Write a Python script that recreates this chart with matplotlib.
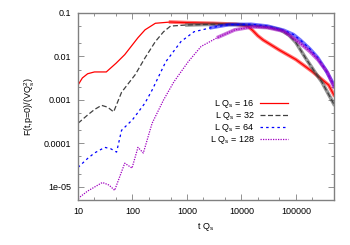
import matplotlib
matplotlib.use("Agg")
import matplotlib.pyplot as plt
from matplotlib.ticker import LogLocator, FixedLocator, FixedFormatter, NullFormatter

plt.rcParams['font.family'] = ['Liberation Sans', 'DejaVu Sans']
plt.rcParams['mathtext.default'] = 'regular'
plt.rcParams['font.size'] = 6.5

# values (log-log)
t16 = [10, 12, 15, 20, 33, 50, 72, 126, 170, 263, 500, 1000, 3000, 8000, 13000, 16000, 20000, 25000, 50000, 100000, 200000, 400000, 500000]
f16 = [0.0022, 0.0032, 0.0040, 0.0044, 0.0044, 0.0070, 0.011, 0.027, 0.041, 0.058, 0.062, 0.060, 0.058, 0.055, 0.050, 0.040, 0.030, 0.024, 0.014, 0.0085, 0.0045, 0.0022, 0.0013]

t32 = [10, 15, 20, 27, 35, 45, 63, 112, 170, 263, 372, 500, 1000, 3000, 10000, 20000, 35000, 52000, 75000, 100000, 150000, 220000, 300000, 500000]
f32 = [0.00029, 0.00045, 0.0006, 0.00075, 0.00068, 0.00053, 0.0015, 0.0038, 0.0093, 0.022, 0.037, 0.050, 0.053, 0.055, 0.054, 0.050, 0.046, 0.041, 0.031, 0.021, 0.0093, 0.0045, 0.0026, 0.0008]

t64 = [10, 15, 20, 31, 40, 51, 63, 100, 170, 230, 407, 776, 1350, 2800, 5900, 15000, 30000, 60000, 90000, 120000, 180000, 250000, 350000, 500000]
f64 = [2.8e-5, 4.5e-5, 6e-5, 8.1e-5, 7.5e-5, 6.3e-5, 2.0e-4, 3.5e-4, 8.5e-4, 0.0017, 0.0075, 0.022, 0.037, 0.046, 0.054, 0.055, 0.050, 0.040, 0.032, 0.024, 0.015, 0.0095, 0.0050, 0.0022]

t128 = [10, 15, 28, 37, 47, 72, 98, 126, 158, 229, 372, 575, 1050, 1820, 3800, 7600, 16000, 30000, 60000, 110000, 180000, 257000, 380000, 500000]
f128 = [5.4e-6, 8e-6, 1.26e-5, 1.1e-5, 8.3e-6, 3.5e-5, 2.7e-5, 8.1e-5, 6e-5, 2.9e-4, 1e-3, 0.0026, 0.0075, 0.017, 0.028, 0.041, 0.048, 0.046, 0.038, 0.022, 0.013, 0.0083, 0.0043, 0.0020]

labels = [r"L Q$_s$ = 16", r"L Q$_s$ = 32", r"L Q$_s$ = 64", r"L Q$_s$ = 128"]
yticks = [1e-5, 1e-4, 1e-3, 1e-2, 1e-1]
ytick_labels = ["1e-05", "0.0001", "0.001", "0.01", "0.1"]
xticks = [10, 100, 1000, 10000, 100000]
xtick_labels = ["10", "100", "1000", "10000", "100000"]

series = [(t16, f16), (t32, f32), (t64, f64), (t128, f128)]
colors = ['#ff0000', '#404040', '#0000ff', '#a000c0']
styles = ['-', (0, (4, 2)), (0, (2, 2.5)), (0, (1, 1))]
noisy_from = [300, 600, 1500, 3000]

fig = plt.figure(figsize=(3.5, 2.45), dpi=100)
ax = fig.add_axes([0.223, 0.184, 0.731, 0.763])

for (t, f), c, ls, nf, lab in zip(series, colors, styles, noisy_from, labels):
    ax.plot(t, f, color=c, ls=ls, lw=0.9, label=lab)
    # noisy part of the curves drawn as a fuzzy band
    tt = [x for x in t if x >= nf]
    ff = [y for x, y in zip(t, f) if x >= nf]
    ax.plot(tt, ff, color=c, ls='-', lw=2.6, alpha=0.55)

ax.set_xscale('log')
ax.set_yscale('log')
ax.set_xlim(10, 5e5)
ax.set_ylim(5e-6, 0.1)

ax.xaxis.set_major_locator(FixedLocator(xticks))
ax.xaxis.set_major_formatter(FixedFormatter(xtick_labels))
ax.xaxis.set_minor_locator(LogLocator(base=10, subs=(2, 5)))
ax.xaxis.set_minor_formatter(NullFormatter())
ax.yaxis.set_major_locator(FixedLocator(yticks))
ax.yaxis.set_major_formatter(FixedFormatter(ytick_labels))
ax.yaxis.set_minor_locator(LogLocator(base=10, subs=(2, 5)))
ax.yaxis.set_minor_formatter(NullFormatter())

ax.tick_params(which='both', direction='in', top=True, right=True, color='#808080', width=0.6)
ax.tick_params(which='major', length=4, pad=5)
ax.tick_params(which='minor', length=2)
for s in ax.spines.values():
    s.set_color('#808080')
    s.set_linewidth(1.0)

ax.set_xlabel(r"t Q$_s$", labelpad=4)
ax.set_ylabel(r"F(t,p=0)/(VQ$_s^2$)", labelpad=5)

ax.legend(loc='upper right', bbox_to_anchor=(0.82, 0.545), frameon=False, markerfirst=False,
          handlelength=3.1, handletextpad=0.6, labelspacing=0.0, borderpad=0, borderaxespad=0)

fig.savefig("out.png", dpi=100)
